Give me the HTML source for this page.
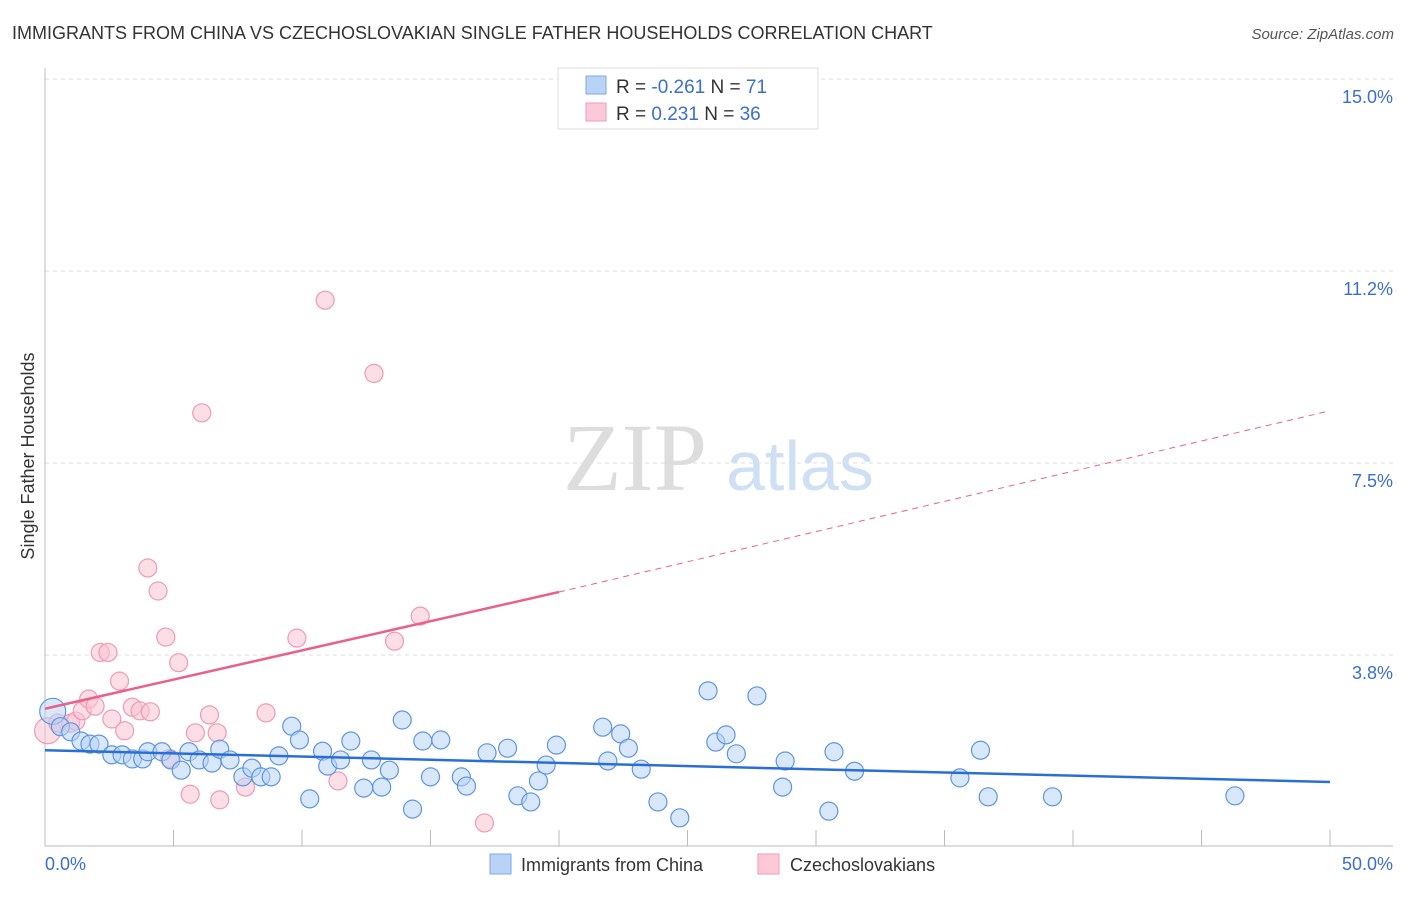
<!DOCTYPE html>
<html><head><meta charset="utf-8"><style>
body{margin:0;background:#fff;font-family:"Liberation Sans",sans-serif}
</style></head><body>
<svg width="1406" height="892" xmlns="http://www.w3.org/2000/svg" font-family="Liberation Sans, sans-serif">
<text x="12" y="39" font-size="18" fill="#333">IMMIGRANTS FROM CHINA VS CZECHOSLOVAKIAN SINGLE FATHER HOUSEHOLDS CORRELATION CHART</text>
<text x="1394" y="39" font-size="15" fill="#555" text-anchor="end" font-style="italic">Source: ZipAtlas.com</text>
<text x="635" y="490" font-size="96" fill="#ddd" font-family="Liberation Serif, serif" text-anchor="middle">ZIP</text>
<text x="800" y="490" font-size="70" fill="#cfe0f5" text-anchor="middle">atlas</text>
<g id="grid"></g>
<g id="axes"></g>
<text transform="translate(34,456) rotate(-90)" font-size="18" fill="#333" text-anchor="middle">Single Father Households</text>
<text x="45" y="870" font-size="18" fill="#3a6fcf">0.0%</text>
<text x="1393" y="870" font-size="18" fill="#3a6fcf" text-anchor="end">50.0%</text>
<g id="marks"></g>
<g>
<rect x="558" y="68" width="260" height="61" fill="#fff" stroke="#ddd"/>
<rect x="586" y="76" width="20" height="18" fill="#b8d3f5" stroke="#7fa9e3"/>
<rect x="586" y="103" width="20" height="18" fill="#fbc9d8" stroke="#f09ab5"/>
<text x="616" y="93" font-size="19" fill="#333">R = <tspan fill="#3a6fcf">-0.261</tspan>   N = <tspan fill="#3a6fcf">71</tspan></text>
<text x="616" y="120" font-size="19" fill="#333">R = <tspan fill="#3a6fcf">  0.231</tspan>   N = <tspan fill="#3a6fcf">36</tspan></text>
</g>
<g>
<rect x="490" y="854" width="21" height="20" fill="#b8d3f5" stroke="#7fa9e3"/>
<text x="521" y="871" font-size="18" fill="#333">Immigrants from China</text>
<rect x="758" y="854" width="21" height="20" fill="#fbc9d8" stroke="#f09ab5"/>
<text x="790" y="871" font-size="18" fill="#333">Czechoslovakians</text>
</g>
</svg>
<script>
const yTicks=[15.0,11.25,7.5,3.75];
const yTickLabels=["15.0%","11.2%","7.5%","3.8%"];
const xTicks=[5,10,15,20,25,30,35,40,45,50];
const chinaX=[0.3,0.6,1.0,1.4,1.75,2.1,2.6,3.0,3.4,3.8,4.0,4.55,4.9,5.3,5.6,6.0,6.5,6.8,7.2,7.7,8.05,8.4,8.8,9.1,9.6,9.9,10.3,10.8,11.0,11.5,11.9,12.4,12.7,13.1,13.4,13.9,14.3,14.7,15.0,15.4,16.2,16.4,17.2,18.0,18.4,18.9,19.2,19.5,19.9,21.7,21.9,22.4,22.7,23.2,23.85,24.7,25.8,26.1,26.5,26.9,27.7,28.8,28.7,30.7,30.5,31.5,35.6,36.4,36.7,39.2,46.3];
const chinaY=[2.65,2.35,2.25,2.07,2.01,2.01,1.8,1.8,1.72,1.72,1.86,1.86,1.7,1.5,1.86,1.7,1.64,1.91,1.7,1.37,1.54,1.37,1.37,1.78,2.36,2.09,0.94,1.87,1.58,1.7,2.07,1.15,1.7,1.17,1.5,2.48,0.74,2.07,1.37,2.09,1.37,1.19,1.84,1.93,1.0,0.88,1.29,1.6,1.99,2.34,1.68,2.21,1.93,1.52,0.88,0.57,3.05,2.05,2.19,1.82,2.95,1.68,1.17,1.86,0.7,1.48,1.35,1.89,0.98,0.98,1.0];
const czX=[0.1,0.5,1.0,1.2,1.45,1.7,1.95,2.15,2.45,2.6,2.9,3.1,3.4,3.7,4.0,4.1,4.4,4.7,4.85,5.2,5.65,5.85,6.1,6.4,6.7,6.8,7.8,8.6,9.8,10.9,11.4,12.8,13.6,14.6,17.1];
const czY=[2.27,2.42,2.42,2.46,2.66,2.89,2.75,3.8,3.8,2.5,3.24,2.27,2.73,2.66,5.45,2.64,5.0,4.1,1.73,3.6,1.03,2.23,8.48,2.58,2.23,0.92,1.17,2.62,4.08,10.68,1.29,9.25,4.02,4.51,0.47];
const X0=45,X1=1330,Y0=847,PY=51.2;
const sx=v=>X0+(X1-X0)*v/50, sy=v=>Y0-v*PY;
const NS="http://www.w3.org/2000/svg";
function mk(t,a,p){const e=document.createElementNS(NS,t);for(const k in a)e.setAttribute(k,a[k]);p.appendChild(e);return e;}
const grid=document.getElementById('grid'),axes=document.getElementById('axes'),marks=document.getElementById('marks');
yTicks.forEach((v,i)=>{
 const l=mk('line',{x1:X0,x2:1393,y1:sy(v),y2:sy(v),stroke:'#ddd','stroke-dasharray':'4,4'},grid);
 
 
 const t=mk('text',{x:1393,y:sy(v)+24,'font-size':18,fill:'#3a6fcf','text-anchor':'end'},grid);
 t.textContent=yTickLabels[i];
 
 
});
const ya=mk('line',{x1:X0,x2:X0,y1:68,y2:846,stroke:'#bbb'},axes);


const xa=mk('line',{x1:X0,x2:1393,y1:846,y2:846,stroke:'#bbb'},axes);


xTicks.forEach(v=>{
 const t=mk('line',{x1:sx(v),x2:sx(v),y1:830,y2:846,stroke:'#bbb'},axes);
 
 
});
function dots(xs,ys,fill,stroke,name){
 xs.forEach((x,i)=>{
  const r=i===0?13:9;
  const c=mk('circle',{cx:sx(x),cy:sy(ys[i]),r:r,fill:fill,'fill-opacity':0.55,stroke:stroke,'stroke-width':1.2},marks);
  
  
 });
}
dots(czX,czY,'#f9c3d3','#ef9ab4','czechoslovakian-point');
dots(chinaX,chinaY,'#b8d3f5','#5d96df','china-point');
const bl=mk('line',{x1:sx(0),y1:sy(1.89),x2:sx(50),y2:sy(1.27),stroke:'#2a6fd6','stroke-width':2.5},marks);


const pl=mk('line',{x1:sx(0),y1:sy(2.7),x2:sx(20),y2:sy(4.98),stroke:'#e8618a','stroke-width':2.5},marks);


const pd=mk('line',{x1:sx(20),y1:sy(4.98),x2:sx(50),y2:sy(8.52),stroke:'#e8618a','stroke-width':1,'stroke-dasharray':'6,5'},marks);


</script>
</body></html>
